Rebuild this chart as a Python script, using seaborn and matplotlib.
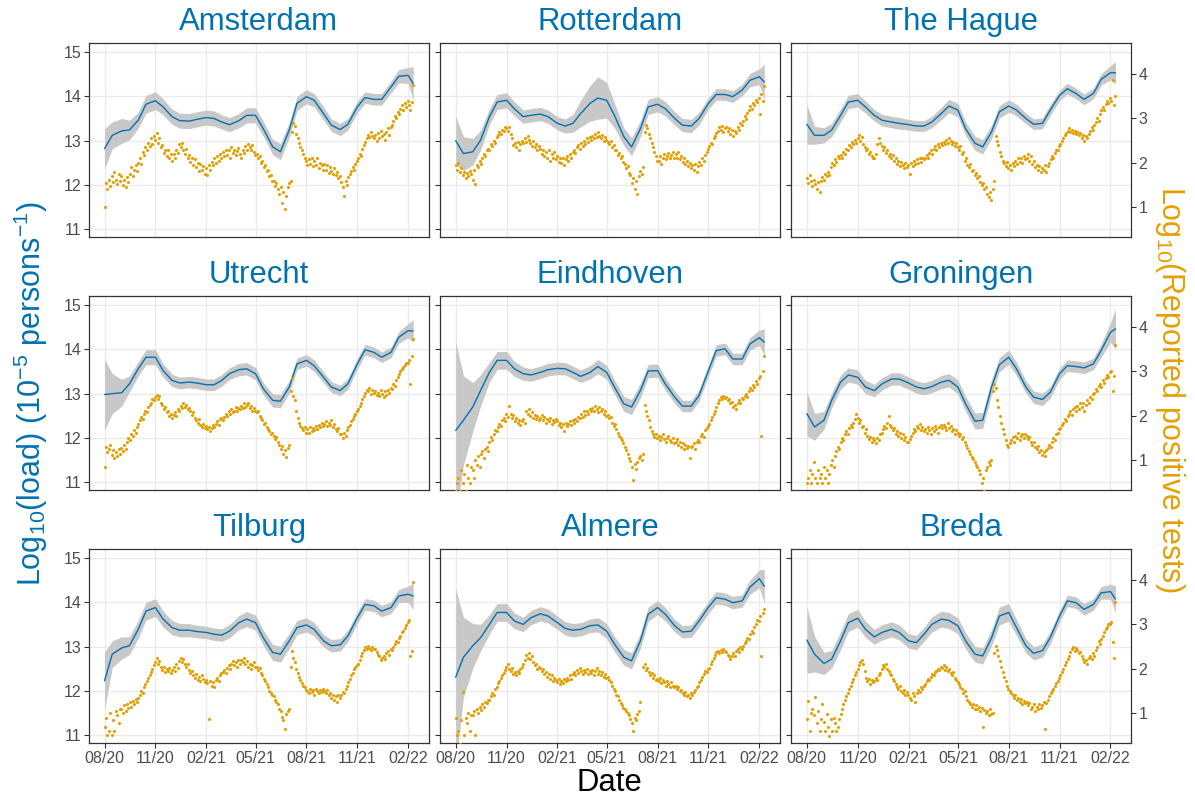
import numpy as np
import pandas as pd
import matplotlib
matplotlib.use("Agg")
import matplotlib.pyplot as plt
import seaborn as sns

# ---------------- data ----------------
cities = ["Amsterdam", "Rotterdam", "The Hague", "Utrecht", "Eindhoven",
          "Groningen", "Tilburg", "Almere", "Breda"]

# smoothed log10 load (left axis), sampled 1st & 15th of each month Aug-2020..Feb-2022 + 10 Feb 2022
amsterdam_load = [12.82, 13.12, 13.22, 13.24, 13.46, 13.82, 13.9, 13.76, 13.54, 13.45, 13.44, 13.48, 13.52,
                  13.5, 13.42, 13.36, 13.45, 13.57, 13.57, 13.27, 12.86, 12.75, 13.24, 13.84, 13.99, 13.91,
                  13.61, 13.35, 13.25, 13.37, 13.76, 13.97, 13.93, 13.93, 14.21, 14.45, 14.47, 14.29]
amsterdam_band = [0.45, 0.3, 0.28, 0.22, 0.18, 0.2, 0.2, 0.18, 0.17, 0.17, 0.17, 0.17, 0.17, 0.17, 0.16,
                  0.16, 0.16, 0.17, 0.17, 0.17, 0.17, 0.18, 0.17, 0.16, 0.16, 0.15, 0.15, 0.14, 0.14, 0.13,
                  0.13, 0.13, 0.13, 0.13, 0.13, 0.15, 0.18, 0.38]
rotterdam_load = [13.0, 12.71, 12.75, 13.01, 13.54, 13.87, 13.91, 13.72, 13.54, 13.57, 13.6, 13.54, 13.39,
                  13.33, 13.39, 13.61, 13.84, 13.96, 13.91, 13.57, 13.09, 12.86, 13.27, 13.76, 13.82, 13.72,
                  13.5, 13.35, 13.33, 13.5, 13.84, 14.04, 14.04, 13.99, 14.14, 14.36, 14.44, 14.32]
rotterdam_band = [0.55, 0.38, 0.3, 0.22, 0.18, 0.17, 0.17, 0.16, 0.15, 0.15, 0.15, 0.15, 0.15, 0.16, 0.2,
                  0.3, 0.4, 0.48, 0.4, 0.28, 0.2, 0.2, 0.18, 0.17, 0.17, 0.16, 0.15, 0.15, 0.15, 0.14,
                  0.13, 0.13, 0.13, 0.13, 0.13, 0.15, 0.18, 0.4]
thehague_load = [13.37, 13.12, 13.12, 13.24, 13.57, 13.87, 13.91, 13.76, 13.57, 13.46, 13.42, 13.39, 13.36,
                 13.33, 13.33, 13.42, 13.61, 13.78, 13.69, 13.27, 12.94, 12.86, 13.2, 13.65, 13.78, 13.69,
                 13.5, 13.37, 13.39, 13.69, 14.02, 14.17, 14.06, 13.93, 14.06, 14.38, 14.53, 14.53]
thehague_band = [0.45, 0.2, 0.17, 0.15, 0.15, 0.15, 0.15, 0.14, 0.13, 0.13, 0.13, 0.13, 0.12, 0.12, 0.12,
                 0.13, 0.14, 0.15, 0.15, 0.15, 0.16, 0.16, 0.15, 0.14, 0.14, 0.13, 0.12, 0.12, 0.12, 0.12,
                 0.12, 0.12, 0.12, 0.12, 0.12, 0.13, 0.16, 0.25]
utrecht_load = [12.98, 13.0, 13.02, 13.22, 13.56, 13.82, 13.82, 13.52, 13.3, 13.24, 13.26, 13.24, 13.2,
                13.2, 13.3, 13.45, 13.54, 13.56, 13.45, 13.11, 12.85, 12.83, 13.15, 13.67, 13.75, 13.63,
                13.37, 13.15, 13.07, 13.22, 13.67, 13.99, 13.93, 13.82, 13.93, 14.27, 14.42, 14.41]
utrecht_band = [0.8, 0.45, 0.3, 0.18, 0.16, 0.17, 0.17, 0.15, 0.14, 0.13, 0.13, 0.13, 0.13, 0.13, 0.13,
                0.13, 0.14, 0.14, 0.14, 0.14, 0.15, 0.15, 0.14, 0.13, 0.13, 0.13, 0.12, 0.12, 0.12, 0.12,
                0.12, 0.12, 0.12, 0.12, 0.12, 0.13, 0.16, 0.25]
eindhoven_load = [12.17, 12.4, 12.7, 13.07, 13.48, 13.75, 13.75, 13.56, 13.45, 13.42, 13.48, 13.54, 13.57,
                  13.56, 13.48, 13.39, 13.48, 13.61, 13.48, 13.15, 12.77, 12.7, 13.07, 13.51, 13.52, 13.22,
                  12.92, 12.72, 12.72, 12.96, 13.52, 13.97, 14.01, 13.78, 13.78, 14.12, 14.26, 14.16]
eindhoven_band = [2.0, 1.0, 0.55, 0.35, 0.22, 0.2, 0.2, 0.17, 0.15, 0.14, 0.14, 0.14, 0.14, 0.14, 0.14,
                  0.14, 0.15, 0.16, 0.16, 0.16, 0.17, 0.17, 0.16, 0.15, 0.15, 0.14, 0.14, 0.13, 0.13, 0.13,
                  0.13, 0.13, 0.13, 0.13, 0.13, 0.14, 0.17, 0.3]
groningen_load = [12.55, 12.25, 12.4, 12.85, 13.26, 13.42, 13.37, 13.15, 13.07, 13.22, 13.33, 13.33, 13.24,
                  13.15, 13.11, 13.16, 13.26, 13.3, 13.15, 12.77, 12.38, 12.4, 13.15, 13.65, 13.82, 13.56,
                  13.15, 12.92, 12.87, 13.03, 13.45, 13.63, 13.61, 13.58, 13.67, 13.97, 14.38, 14.46]
groningen_band = [0.5, 0.3, 0.2, 0.17, 0.16, 0.16, 0.16, 0.15, 0.14, 0.14, 0.14, 0.14, 0.14, 0.14, 0.14,
                  0.14, 0.15, 0.15, 0.16, 0.17, 0.18, 0.18, 0.17, 0.16, 0.16, 0.15, 0.14, 0.14, 0.14, 0.13,
                  0.13, 0.13, 0.13, 0.13, 0.13, 0.15, 0.22, 0.45]
tilburg_load = [12.23, 12.83, 12.97, 13.02, 13.39, 13.8, 13.88, 13.62, 13.43, 13.37, 13.37, 13.34, 13.32,
                13.28, 13.26, 13.35, 13.54, 13.62, 13.54, 13.2, 12.87, 12.83, 13.13, 13.43, 13.49, 13.39,
                13.13, 13.02, 13.04, 13.24, 13.65, 13.95, 13.92, 13.8, 13.88, 14.14, 14.18, 14.14]
tilburg_band = [0.65, 0.3, 0.25, 0.2, 0.2, 0.2, 0.2, 0.18, 0.16, 0.15, 0.15, 0.14, 0.14, 0.14, 0.14,
                0.15, 0.16, 0.17, 0.17, 0.17, 0.18, 0.18, 0.17, 0.16, 0.16, 0.15, 0.14, 0.14, 0.14, 0.13,
                0.13, 0.13, 0.13, 0.13, 0.13, 0.15, 0.18, 0.3]
almere_load = [12.31, 12.76, 13.02, 13.2, 13.5, 13.77, 13.77, 13.58, 13.5, 13.65, 13.74, 13.69, 13.54,
               13.41, 13.37, 13.39, 13.47, 13.49, 13.35, 13.06, 12.76, 12.68, 13.13, 13.73, 13.88, 13.73,
               13.47, 13.33, 13.35, 13.58, 13.89, 14.1, 14.07, 13.99, 14.03, 14.34, 14.53, 14.36]
almere_band = [2.0, 0.9, 0.5, 0.3, 0.22, 0.2, 0.2, 0.18, 0.16, 0.16, 0.16, 0.16, 0.15, 0.15, 0.15,
               0.15, 0.15, 0.16, 0.17, 0.17, 0.18, 0.18, 0.17, 0.16, 0.16, 0.15, 0.14, 0.14, 0.14, 0.14,
               0.14, 0.14, 0.14, 0.14, 0.14, 0.16, 0.2, 0.38]
breda_load = [13.15, 12.83, 12.62, 12.72, 13.13, 13.54, 13.64, 13.39, 13.22, 13.32, 13.39, 13.32, 13.13,
              13.09, 13.28, 13.5, 13.62, 13.59, 13.47, 13.13, 12.83, 12.79, 13.2, 13.69, 13.77, 13.43,
              13.02, 12.85, 12.91, 13.2, 13.69, 14.03, 13.99, 13.84, 13.95, 14.21, 14.24, 14.07]
breda_band = [0.75, 0.4, 0.25, 0.2, 0.2, 0.2, 0.2, 0.18, 0.17, 0.17, 0.17, 0.17, 0.16, 0.16, 0.16,
              0.17, 0.18, 0.18, 0.18, 0.18, 0.18, 0.18, 0.18, 0.2, 0.2, 0.18, 0.16, 0.15, 0.15, 0.14,
              0.13, 0.13, 0.13, 0.13, 0.13, 0.14, 0.17, 0.3]

# log10 reported positive tests (right axis), evenly spaced 1 Aug 2020 .. 10 Feb 2022 (12 per month)
amsterdam_tests = [
    1.0, 1.55, 1.4, 1.62, 1.48, 1.7, 1.58, 1.8, 1.62, 1.52, 1.75, 1.6,
    1.7, 1.5, 1.62, 1.45, 1.68, 1.58, 1.75, 1.9, 1.7, 1.85, 1.95, 1.82,
    2.0, 2.12, 1.98, 2.25, 2.18, 2.35, 2.28, 2.45, 2.38, 2.55, 2.42, 2.6,
    2.52, 2.68, 2.45, 2.55, 2.35, 2.4, 2.22, 2.3, 2.15, 2.28, 2.1, 2.2,
    2.05, 2.2, 2.12, 2.3, 2.22, 2.42, 2.35, 2.45, 2.28, 2.2, 2.32, 2.1,
    2.18, 2.02, 2.12, 1.95, 2.08, 1.9, 2.0, 1.82, 1.98, 1.85, 1.92, 1.75,
    1.88, 1.72, 1.95, 1.85, 2.02, 1.95, 2.1, 2.0, 2.15, 2.05, 2.2, 2.12,
    2.25, 2.15, 2.3, 2.18, 2.28, 2.12, 2.35, 2.22, 2.3, 2.18, 2.26, 2.34,
    2.2, 2.12, 2.3, 2.22, 2.38, 2.28, 2.42, 2.35, 2.3, 2.4, 2.25, 2.18,
    2.2, 2.1, 2.15, 2.0, 2.05, 1.9, 1.95, 1.82, 1.85, 1.7, 1.72, 1.6,
    1.6, 1.48, 1.55, 1.4, 1.3, 1.45, 1.1, 1.35, 0.95, 1.25, 1.45, 1.55,
    1.6, 2.7, 2.9, 2.82, 2.65, 2.55, 2.45, 2.35, 2.3, 2.2, 2.12, 2.05,
    1.95, 2.08, 1.98, 2.12, 1.92, 2.05, 1.96, 2.1, 1.88, 2.0, 1.95, 1.85,
    1.98, 1.85, 1.95, 1.78, 1.9, 1.82, 1.75, 1.88, 1.72, 1.8, 1.65, 1.7,
    1.58, 1.45, 1.25, 1.6, 1.5, 1.68, 1.75, 1.82, 1.9, 1.85, 1.98, 2.05,
    2.1, 2.2, 2.15, 2.32, 2.4, 2.48, 2.55, 2.62, 2.58, 2.7, 2.6, 2.55,
    2.62, 2.5, 2.68, 2.55, 2.72, 2.6, 2.65, 2.52, 2.7, 2.78, 2.62, 2.8,
    2.85, 2.95, 3.05, 3.0, 3.15, 3.1, 3.22, 3.3, 3.2, 3.35, 3.25, 3.4,
    3.3, 3.2, 3.38, 3.75]
rotterdam_tests = [
    1.95, 1.85, 2.0, 1.8, 1.88, 1.72, 1.8, 1.65, 1.78, 1.7, 1.82, 1.75,
    1.62, 1.85, 1.52, 1.95, 1.9, 2.05, 1.98, 2.12, 2.2, 2.15, 2.28, 2.32,
    2.3, 2.42, 2.38, 2.5, 2.45, 2.58, 2.62, 2.7, 2.65, 2.75, 2.72, 2.8,
    2.78, 2.72, 2.8, 2.65, 2.55, 2.4, 2.45, 2.35, 2.48, 2.3, 2.42, 2.5,
    2.45, 2.55, 2.48, 2.6, 2.52, 2.45, 2.38, 2.5, 2.35, 2.42, 2.3, 2.38,
    2.32, 2.2, 2.3, 2.15, 2.25, 2.1, 2.28, 2.05, 2.2, 2.12, 2.25, 2.08,
    2.15, 2.02, 2.12, 2.0, 2.1, 1.95, 2.08, 2.15, 2.05, 2.2, 2.12, 2.25,
    2.3, 2.22, 2.35, 2.4, 2.32, 2.45, 2.38, 2.5, 2.42, 2.55, 2.48, 2.58,
    2.52, 2.6, 2.55, 2.65, 2.58, 2.7, 2.6, 2.55, 2.62, 2.5, 2.58, 2.52,
    2.48, 2.42, 2.5, 2.35, 2.4, 2.28, 2.3, 2.18, 2.22, 2.1, 2.15, 2.02,
    1.98, 1.88, 1.92, 1.78, 1.72, 1.55, 1.65, 1.4, 1.6, 1.3, 1.7, 1.82,
    1.75, 1.9, 2.7, 2.85, 2.78, 2.65, 2.55, 2.45, 2.35, 2.25, 2.15, 2.05,
    2.05, 2.15, 1.98, 2.12, 2.2, 2.08, 2.15, 2.22, 2.1, 2.18, 2.25, 2.12,
    2.2, 2.12, 2.25, 2.08, 2.15, 2.02, 2.1, 1.98, 2.05, 1.92, 2.0, 1.88,
    1.95, 1.85, 1.98, 1.8, 1.92, 2.02, 1.95, 2.1, 2.05, 2.18, 2.25, 2.32,
    2.38, 2.45, 2.42, 2.55, 2.6, 2.68, 2.72, 2.8, 2.75, 2.82, 2.7, 2.78,
    2.8, 2.72, 2.78, 2.65, 2.75, 2.6, 2.72, 2.68, 2.8, 2.75, 2.9, 2.85,
    2.95, 3.05, 2.98, 3.12, 3.2, 3.28, 3.22, 3.35, 3.3, 3.42, 3.38, 3.45,
    3.1, 3.55, 3.4, 3.72]
thehague_tests = [
    1.65, 1.55, 1.72, 1.6, 1.48, 1.62, 1.52, 1.42, 1.58, 1.35, 1.6, 1.68,
    1.62, 1.75, 1.7, 1.8, 1.72, 1.9, 2.0, 1.95, 2.08, 2.02, 2.15, 2.1,
    2.18, 2.12, 2.25, 2.2, 2.32, 2.28, 2.4, 2.35, 2.48, 2.42, 2.52, 2.45,
    2.55, 2.62, 2.5, 2.58, 2.42, 2.35, 2.28, 2.32, 2.2, 2.25, 2.15, 2.12,
    2.1, 2.2, 2.42, 2.55, 2.45, 2.38, 2.3, 2.35, 2.22, 2.28, 2.15, 2.2,
    2.12, 2.18, 2.05, 2.1, 1.98, 2.05, 1.92, 2.02, 1.95, 1.88, 2.0, 1.9,
    1.95, 1.75, 2.0, 1.92, 2.05, 1.98, 2.08, 2.0, 2.1, 2.02, 2.12, 2.08,
    2.12, 2.18, 2.1, 2.22, 2.28, 2.2, 2.32, 2.38, 2.3, 2.42, 2.35, 2.45,
    2.4, 2.48, 2.42, 2.52, 2.45, 2.55, 2.5, 2.42, 2.48, 2.38, 2.45, 2.35,
    2.3, 2.38, 2.2, 2.25, 2.05, 2.1, 1.95, 1.9, 1.98, 1.82, 1.85, 1.72,
    1.78, 1.65, 1.7, 1.58, 1.5, 1.55, 1.4, 1.45, 1.3, 1.22, 1.35, 1.16,
    1.42, 1.6, 2.6, 2.5, 2.4, 2.25, 2.15, 2.05, 2.0, 1.92, 2.02, 1.88,
    1.95, 1.85, 2.0, 1.92, 2.05, 1.98, 2.1, 2.02, 2.12, 2.0, 2.15, 2.08,
    2.12, 2.2, 2.05, 2.15, 1.98, 2.05, 1.9, 1.95, 1.85, 1.92, 1.8, 1.88,
    1.85, 1.95, 1.8, 1.92, 2.0, 2.08, 2.15, 2.12, 2.22, 2.3, 2.28, 2.38,
    2.42, 2.5, 2.55, 2.62, 2.68, 2.72, 2.78, 2.7, 2.75, 2.68, 2.72, 2.65,
    2.7, 2.62, 2.68, 2.55, 2.62, 2.5, 2.6, 2.55, 2.65, 2.72, 2.8, 2.75,
    2.85, 2.92, 3.0, 2.95, 3.1, 3.18, 3.25, 3.2, 3.32, 3.4, 3.35, 3.45,
    3.4, 3.86, 3.3, 3.5]
utrecht_tests = [
    0.85, 1.3, 1.18, 1.25, 1.35, 1.12, 1.22, 1.05, 1.18, 1.1, 1.25, 1.15,
    1.28, 1.2, 1.35, 1.25, 1.4, 1.5, 1.45, 1.58, 1.55, 1.68, 1.62, 1.75,
    1.82, 1.9, 1.98, 1.92, 2.05, 2.12, 2.08, 2.2, 2.25, 2.3, 2.38, 2.35,
    2.42, 2.48, 2.38, 2.45, 2.3, 2.25, 2.15, 2.2, 2.08, 2.12, 2.0, 2.05,
    1.95, 2.02, 2.08, 2.0, 2.15, 2.12, 2.22, 2.18, 2.28, 2.2, 2.25, 2.15,
    2.18, 2.1, 2.02, 2.08, 1.95, 1.9, 1.85, 1.92, 1.8, 1.75, 1.82, 1.72,
    1.78, 1.7, 1.75, 1.65, 1.72, 1.8, 1.75, 1.82, 1.88, 1.8, 1.92, 1.95,
    1.9, 1.98, 2.05, 2.0, 2.1, 2.05, 2.15, 2.08, 2.12, 2.2, 2.1, 2.18,
    2.15, 2.22, 2.18, 2.28, 2.2, 2.25, 2.3, 2.18, 2.22, 2.12, 2.18, 2.1,
    2.08, 2.12, 2.0, 1.95, 1.9, 1.82, 1.85, 1.75, 1.7, 1.65, 1.58, 1.62,
    1.55, 1.48, 1.52, 1.4, 1.35, 1.25, 1.32, 1.15, 1.22, 1.08, 1.28, 1.35,
    2.55, 2.85, 2.45, 2.35, 2.1, 1.95, 1.85, 1.78, 1.72, 1.68, 1.75, 1.62,
    1.7, 1.62, 1.75, 1.65, 1.72, 1.68, 1.78, 1.7, 1.8, 1.75, 1.85, 1.78,
    1.82, 1.88, 1.78, 1.85, 1.8, 1.9, 1.75, 1.82, 1.7, 1.65, 1.72, 1.6,
    1.58, 1.5, 1.62, 1.55, 1.68, 1.75, 1.8, 1.88, 1.92, 2.0, 2.05, 2.12,
    2.15, 2.22, 2.3, 2.38, 2.45, 2.52, 2.58, 2.55, 2.62, 2.5, 2.58, 2.52,
    2.55, 2.48, 2.52, 2.45, 2.58, 2.5, 2.42, 2.55, 2.48, 2.58, 2.52, 2.62,
    2.6, 2.72, 2.68, 2.8, 2.88, 2.95, 3.0, 3.05, 3.1, 3.15, 3.2, 3.18,
    3.25, 2.72, 3.35, 3.72]
eindhoven_tests = [
    0.3, 0.48, 0.6, 0.3, 0.78, 0.48, 0.7, 0.3, 0.9, 0.6, 0.48, 0.85,
    0.78, 0.6, 1.0, 0.9, 1.1, 0.85, 1.15, 1.2, 1.05, 1.25, 1.3, 1.2,
    1.4, 1.52, 1.45, 1.6, 1.68, 1.65, 1.75, 1.82, 1.78, 1.9, 1.95, 1.88,
    2.05, 1.98, 2.22, 2.05, 1.95, 2.02, 1.88, 1.95, 1.85, 1.9, 1.8, 1.88,
    1.92, 1.85, 2.1, 2.05, 2.15, 2.0, 2.08, 1.95, 2.02, 1.92, 2.0, 1.9,
    1.95, 2.02, 1.9, 1.98, 1.85, 1.92, 1.88, 1.95, 1.82, 1.9, 1.86, 1.92,
    1.88, 1.8, 1.85, 1.75, 1.82, 1.65, 1.85, 1.78, 1.82, 1.88, 1.8, 1.9,
    1.85, 1.92, 1.88, 1.98, 1.95, 2.05, 1.98, 2.1, 2.02, 2.12, 2.05, 2.15,
    2.1, 2.18, 2.12, 2.22, 2.15, 2.08, 2.2, 2.1, 2.15, 2.05, 2.12, 2.0,
    2.02, 1.95, 1.98, 1.85, 1.78, 1.82, 1.7, 1.62, 1.55, 1.5, 1.45, 1.38,
    1.3, 1.22, 1.15, 1.05, 0.98, 0.85, 0.55, 0.92, 0.8, 0.95, 1.05, 1.1,
    1.0, 1.15, 2.25, 2.1, 2.0, 1.9, 1.75, 1.65, 1.6, 1.52, 1.58, 1.5,
    1.55, 1.45, 1.52, 1.6, 1.48, 1.42, 1.5, 1.55, 1.45, 1.4, 1.5, 1.38,
    1.42, 1.48, 1.35, 1.42, 1.3, 1.38, 1.25, 1.35, 1.28, 1.32, 1.05, 1.3,
    1.32, 1.38, 1.25, 1.4, 1.45, 1.42, 1.55, 1.6, 1.52, 1.68, 1.72, 1.78,
    1.82, 1.9, 1.98, 2.05, 2.12, 2.2, 2.28, 2.35, 2.42, 2.38, 2.45, 2.4,
    2.42, 2.35, 2.38, 2.28, 2.32, 2.2, 2.25, 2.15, 2.28, 2.35, 2.3, 2.4,
    2.38, 2.45, 2.5, 2.42, 2.55, 2.62, 2.58, 2.7, 2.65, 2.78, 2.72, 2.85,
    2.9, 1.55, 3.0, 3.35]
groningen_tests = [
    0.48, 0.6, 0.78, 0.48, 0.7, 0.95, 0.6, 0.48, 0.78, 0.6, 0.7, 0.48,
    0.85, 0.6, 0.78, 0.48, 0.7, 0.9, 1.0, 0.85, 1.1, 1.2, 1.3, 1.25,
    1.42, 1.5, 1.45, 1.58, 1.65, 1.6, 1.72, 1.8, 1.75, 1.85, 1.92, 2.05,
    1.95, 1.85, 1.9, 1.75, 1.78, 1.62, 1.7, 1.55, 1.48, 1.52, 1.42, 1.5,
    1.45, 1.38, 1.5, 1.45, 1.58, 1.62, 1.7, 1.78, 1.72, 1.85, 2.0, 1.8,
    1.75, 1.68, 1.72, 1.6, 1.65, 1.55, 1.62, 1.5, 1.58, 1.45, 1.52, 1.42,
    1.4, 1.48, 1.55, 1.62, 1.7, 1.65, 1.78, 1.72, 1.82, 1.68, 1.75, 1.65,
    1.7, 1.62, 1.75, 1.68, 1.6, 1.72, 1.65, 1.78, 1.7, 1.62, 1.75, 1.8,
    1.72, 1.8, 1.75, 1.68, 1.85, 1.72, 1.78, 1.65, 1.7, 1.6, 1.68, 1.62,
    1.55, 1.6, 1.48, 1.52, 1.4, 1.35, 1.28, 1.2, 1.15, 1.08, 1.02, 0.95,
    0.9, 0.85, 0.78, 0.7, 0.48, 0.6, 0.3, 0.78, 0.85, 0.95, 0.9, 1.0,
    2.55, 2.72, 2.62, 2.35, 2.2, 2.0, 1.85, 1.7, 1.58, 1.45, 1.35, 1.3,
    1.38, 1.45, 1.52, 1.4, 1.55, 1.5, 1.62, 1.45, 1.55, 1.6, 1.5, 1.58,
    1.55, 1.48, 1.52, 1.4, 1.35, 1.42, 1.3, 1.25, 1.32, 1.18, 1.22, 1.12,
    1.18, 1.1, 1.22, 1.28, 1.35, 1.3, 1.42, 1.5, 1.45, 1.58, 1.62, 1.7,
    1.72, 1.8, 1.85, 1.92, 1.88, 2.0, 2.05, 2.1, 2.02, 2.15, 2.2, 2.12,
    2.22, 2.15, 2.28, 2.2, 2.3, 2.12, 2.25, 2.35, 2.3, 2.42, 2.38, 2.5,
    2.52, 2.6, 2.55, 2.68, 2.72, 2.65, 2.8, 2.75, 2.85, 2.92, 2.88, 2.98,
    3.0, 2.55, 2.9, 3.6]
tilburg_tests = [
    0.7, 0.9, 0.5, 0.6, 1.0, 0.5, 0.85, 0.6, 1.05, 0.95, 0.78, 1.1,
    1.1, 1.0, 1.18, 1.05, 1.2, 1.12, 1.25, 1.15, 1.28, 1.2, 1.32, 1.25,
    1.35, 1.42, 1.5, 1.45, 1.58, 1.65, 1.72, 1.8, 1.85, 1.92, 2.0, 2.08,
    2.15, 2.25, 2.1, 2.18, 2.05, 1.98, 2.05, 1.92, 2.0, 1.95, 2.02, 1.9,
    1.98, 2.05, 1.95, 2.1, 2.02, 2.18, 2.25, 2.15, 2.22, 2.1, 2.05, 2.12,
    1.98, 1.9, 1.95, 1.85, 1.8, 1.88, 1.75, 1.82, 1.72, 1.85, 1.78, 1.7,
    1.75, 1.68, 0.88, 1.72, 1.62, 1.7, 1.58, 1.75, 1.8, 1.72, 1.85, 1.9,
    1.92, 1.98, 1.9, 2.02, 2.08, 2.0, 2.12, 2.18, 2.08, 2.15, 2.05, 2.2,
    2.12, 2.2, 2.15, 2.25, 2.1, 2.18, 2.05, 2.12, 2.0, 2.08, 2.15, 2.05,
    2.05, 1.98, 2.02, 1.9, 1.85, 1.78, 1.72, 1.65, 1.58, 1.5, 1.45, 1.4,
    1.38, 1.3, 1.25, 1.2, 1.1, 1.05, 0.92, 0.85, 0.65, 0.98, 1.05, 1.1,
    2.05, 2.4, 2.25, 2.15, 2.0, 1.9, 1.82, 1.75, 1.68, 1.62, 1.58, 1.52,
    1.5, 1.45, 1.55, 1.48, 1.52, 1.42, 1.55, 1.5, 1.45, 1.52, 1.48, 1.55,
    1.5, 1.45, 1.52, 1.4, 1.45, 1.35, 1.42, 1.3, 1.38, 1.25, 1.4, 1.35,
    1.4, 1.48, 1.45, 1.55, 1.62, 1.7, 1.78, 1.85, 1.9, 2.0, 2.05, 2.08,
    2.12, 2.2, 2.28, 2.35, 2.42, 2.5, 2.45, 2.52, 2.48, 2.42, 2.5, 2.45,
    2.45, 2.38, 2.32, 2.28, 2.2, 2.25, 2.3, 2.22, 2.35, 2.4, 2.32, 2.45,
    2.42, 2.5, 2.55, 2.62, 2.6, 2.7, 2.75, 2.82, 2.85, 2.92, 2.98, 3.05,
    3.1, 2.3, 2.4, 3.95]
almere_tests = [
    0.9, 0.5, 0.6, 0.3, 0.85, 1.47, 0.5, 0.9, 0.78, 1.0, 0.6, 0.95,
    0.95, 1.05, 0.5, 1.1, 1.0, 1.15, 1.08, 1.2, 1.15, 1.25, 1.22, 1.3,
    1.3, 1.38, 1.45, 1.42, 1.55, 1.6, 1.68, 1.72, 1.8, 1.85, 1.9, 1.98,
    2.05, 2.12, 2.0, 1.95, 2.02, 1.88, 1.92, 1.85, 1.95, 1.9, 2.0, 2.05,
    2.1, 2.2, 2.32, 2.25, 2.35, 2.22, 2.28, 2.15, 2.08, 2.12, 2.0, 2.05,
    2.02, 1.95, 2.0, 1.88, 1.92, 1.82, 1.88, 1.78, 1.85, 1.72, 1.8, 1.75,
    1.7, 1.78, 1.65, 1.72, 1.68, 1.78, 1.72, 1.8, 1.75, 1.85, 1.78, 1.88,
    1.92, 1.85, 1.98, 1.9, 2.02, 1.95, 1.88, 1.98, 1.92, 2.0, 1.88, 1.95,
    1.9, 1.98, 1.85, 1.95, 2.02, 1.88, 1.95, 1.85, 1.92, 1.82, 1.88, 1.8,
    1.82, 1.75, 1.7, 1.62, 1.55, 1.5, 1.42, 1.38, 1.3, 1.22, 1.18, 1.12,
    1.1, 1.05, 1.0, 0.95, 0.88, 0.78, 0.61, 0.9, 0.85, 0.98, 1.05, 1.25,
    np.nan, 2.05, 2.1, 1.98, 2.02, 1.92, 1.85, 1.9, 1.8, 1.85, 1.75, 1.78,
    1.72, 1.8, 1.68, 1.75, 1.7, 1.62, 1.72, 1.65, 1.6, 1.7, 1.62, 1.58,
    1.62, 1.55, 1.6, 1.5, 1.52, 1.45, 1.42, 1.48, 1.38, 1.42, 1.35, 1.45,
    1.42, 1.48, 1.52, 1.58, 1.62, 1.7, 1.75, 1.82, 1.88, 1.95, 1.92, 2.0,
    2.02, 2.1, 2.18, 2.25, 2.32, 2.38, 2.4, 2.35, 2.42, 2.38, 2.45, 2.4,
    2.38, 2.32, 2.28, 2.22, 2.3, 2.35, 2.28, 2.4, 2.45, 2.38, 2.5, 2.45,
    2.52, 2.58, 2.62, 2.7, 2.68, 2.78, 2.85, 2.8, 2.95, 3.02, 3.1, 3.08,
    3.2, 2.3, 3.25, 3.35]
breda_tests = [
    0.87, 1.28, 0.61, 1.0, 1.1, 0.95, 1.36, 0.78, 1.06, 0.61, 0.87, 1.2,
    0.8, 0.61, 0.98, 0.7, 0.48, 0.87, 0.61, 0.9, 0.78, 0.61, 0.7, 0.87,
    0.98, 1.1, 1.2, 1.3, 1.38, 1.45, 1.55, 1.62, 1.7, 1.78, 1.85, 1.92,
    2.0, 2.08, 2.15, 2.2, 2.1, 1.95, 1.8, 1.72, 1.78, 1.65, 1.75, 1.7,
    1.72, 1.8, 1.75, 1.85, 1.9, 2.0, 2.08, 2.05, 2.1, 2.0, 1.95, 1.88,
    1.85, 1.78, 1.72, 1.65, 1.6, 1.55, 1.62, 1.5, 1.45, 1.52, 1.4, 1.48,
    1.42, 1.35, 1.3, 1.45, 1.38, 1.25, 1.45, 1.52, 1.48, 1.58, 1.55, 1.62,
    1.65, 1.72, 1.78, 1.75, 1.82, 1.88, 1.85, 1.92, 1.95, 2.0, 1.98, 2.05,
    2.02, 2.08, 1.98, 2.05, 1.95, 2.0, 1.9, 1.85, 1.92, 1.8, 1.75, 1.7,
    1.65, 1.58, 1.55, 1.45, 1.5, 1.38, 1.3, 1.25, 1.2, 1.15, 1.2, 1.1,
    1.18, 1.1, 1.15, 1.05, 1.12, 0.7, 1.08, 1.0, 1.05, 0.95, 1.1, 0.98,
    1.0, 2.35, 2.52, 2.42, 2.3, 2.18, 2.05, 1.92, 1.82, 1.72, 1.62, 1.55,
    1.5, 1.45, 1.42, 1.35, 1.4, 1.3, 1.35, 1.25, 1.32, 1.2, 1.28, 1.22,
    1.25, 1.18, 1.22, 1.1, 1.15, 1.2, 1.05, 1.15, 1.1, 1.2, 1.12, 1.18,
    1.25, 0.65, 1.22, 1.3, 1.38, 1.45, 1.5, 1.55, 1.62, 1.68, 1.72, 1.8,
    1.85, 1.92, 2.0, 2.08, 2.15, 2.22, 2.3, 2.38, 2.45, 2.5, 2.4, 2.48,
    2.42, 2.35, 2.38, 2.28, 2.22, 2.15, 2.2, 2.12, 2.25, 2.3, 2.22, 2.35,
    2.28, 2.42, 2.5, 2.62, 2.55, 2.68, 2.75, 2.82, 2.9, 2.95, 3.02, 3.0,
    3.05, 2.6, 2.25, 3.5]

x_tick_labels = ["08/20", "11/20", "02/21", "05/21", "08/21", "11/21", "02/22"]
left_ticks = [11, 12, 13, 14, 15]
right_ticks = [1, 2, 3, 4]

load = dict(zip(cities, [amsterdam_load, rotterdam_load, thehague_load, utrecht_load, eindhoven_load,
                         groningen_load, tilburg_load, almere_load, breda_load]))
band = dict(zip(cities, [amsterdam_band, rotterdam_band, thehague_band, utrecht_band, eindhoven_band,
                         groningen_band, tilburg_band, almere_band, breda_band]))
tests = dict(zip(cities, [amsterdam_tests, rotterdam_tests, thehague_tests, utrecht_tests, eindhoven_tests,
                          groningen_tests, tilburg_tests, almere_tests, breda_tests]))

line_dates = pd.DatetimeIndex(list(pd.date_range("2020-08-01", periods=37, freq="SMS"))
                              + [pd.Timestamp("2022-02-10")])

# ---------------- style ----------------
BLUE = "#0072B2"
ORANGE = "#E69F00"
RIBBON = "#C8C8C8"
GRID = "#EBEBEB"
BORDER = "#333333"
TICKTXT = "#4D4D4D"
OFFSET = 10.5           # right axis = left axis - 10.5
YLO, YHI = 10.83, 15.2

sns.set_theme(style="white")
plt.rcParams["font.family"] = ["Liberation Sans", "DejaVu Sans"]
plt.rcParams["mathtext.fontset"] = "custom"
plt.rcParams["mathtext.rm"] = "Liberation Sans"
plt.rcParams["mathtext.it"] = "Liberation Sans:italic"
plt.rcParams["mathtext.bf"] = "Liberation Sans:bold"

fig, axes = plt.subplots(3, 3, figsize=(11.95, 8.02), dpi=100)
fig.subplots_adjust(left=0.0745, right=0.9464, top=0.9464, bottom=0.0736,
                    wspace=0.034, hspace=0.304)

xlo, xhi = pd.Timestamp("2020-07-04"), pd.Timestamp("2022-03-10")
tick_dates = pd.date_range("2020-08-01", "2022-02-01", freq="3MS")
TICKSIZE = 11.5

for i, city in enumerate(cities):
    r, c = divmod(i, 3)
    ax = axes[r, c]
    y = np.array(load[city])
    b = np.array(band[city])
    ax.fill_between(line_dates, y - b, y + b, color=RIBBON, linewidth=0, zorder=2)
    sns.lineplot(x=line_dates, y=y, ax=ax, color=BLUE, linewidth=1.0, zorder=3)

    ax.set_xlim(xlo, xhi)
    ax.set_ylim(YLO, YHI)
    ax.set_yticks(left_ticks)
    ax.set_xticks(tick_dates)
    ax.set_xticklabels(x_tick_labels)
    ax.grid(True, color=GRID, linewidth=1.0)
    ax.set_axisbelow(True)
    for s in ax.spines.values():
        s.set_color(BORDER)
        s.set_linewidth(0.9)
    ax.tick_params(axis="y", left=(c == 0), labelleft=(c == 0), right=False, labelright=False,
                   length=3.5, width=0.8, color=BORDER, labelsize=TICKSIZE, labelcolor=TICKTXT, pad=2)
    ax.tick_params(axis="x", bottom=(r == 2), labelbottom=(r == 2), length=3.5, width=0.8,
                   color=BORDER, labelsize=TICKSIZE, labelcolor=TICKTXT, pad=2)
    ax.set_xlabel("")
    ax.set_ylabel("")
    ax.set_title(city, color=BLUE, fontsize=22.4, pad=9)

    ax2 = ax.twinx()
    vals = np.array(tests[city], dtype=float)
    dot_dates = pd.date_range("2020-08-01", "2022-02-10", periods=len(vals))
    sns.scatterplot(x=dot_dates, y=vals, ax=ax2, color=ORANGE, s=5, linewidth=0, legend=False, zorder=4)
    ax2.set_ylim(YLO - OFFSET, YHI - OFFSET)
    ax2.set_yticks(right_ticks)
    ax2.grid(False)
    for s in ax2.spines.values():
        s.set_visible(False)
    ax2.tick_params(axis="y", right=(c == 2), labelright=(c == 2), left=False, labelleft=False,
                    length=3.5, width=0.8, color=BORDER, labelsize=TICKSIZE, labelcolor=TICKTXT, pad=2)
    ax2.set_ylabel("")
    ax2.set_xlabel("")

fig.text(0.026, 0.509, r"Log$_{\mathrm{10}}$(load) (10$^{\mathrm{-5}}$ persons$^{\mathrm{-1}}$)",
         rotation=90, color=BLUE, fontsize=22, ha="center", va="center")
fig.text(0.979, 0.514, r"Log$_{\mathrm{10}}$(Reported positive tests)",
         rotation=-90, color=ORANGE, fontsize=22, ha="center", va="center")
fig.text(0.51, 0.024, "Date", color="black", fontsize=22.4, ha="center", va="center")

fig.savefig("out.png", dpi=100, facecolor="white")
